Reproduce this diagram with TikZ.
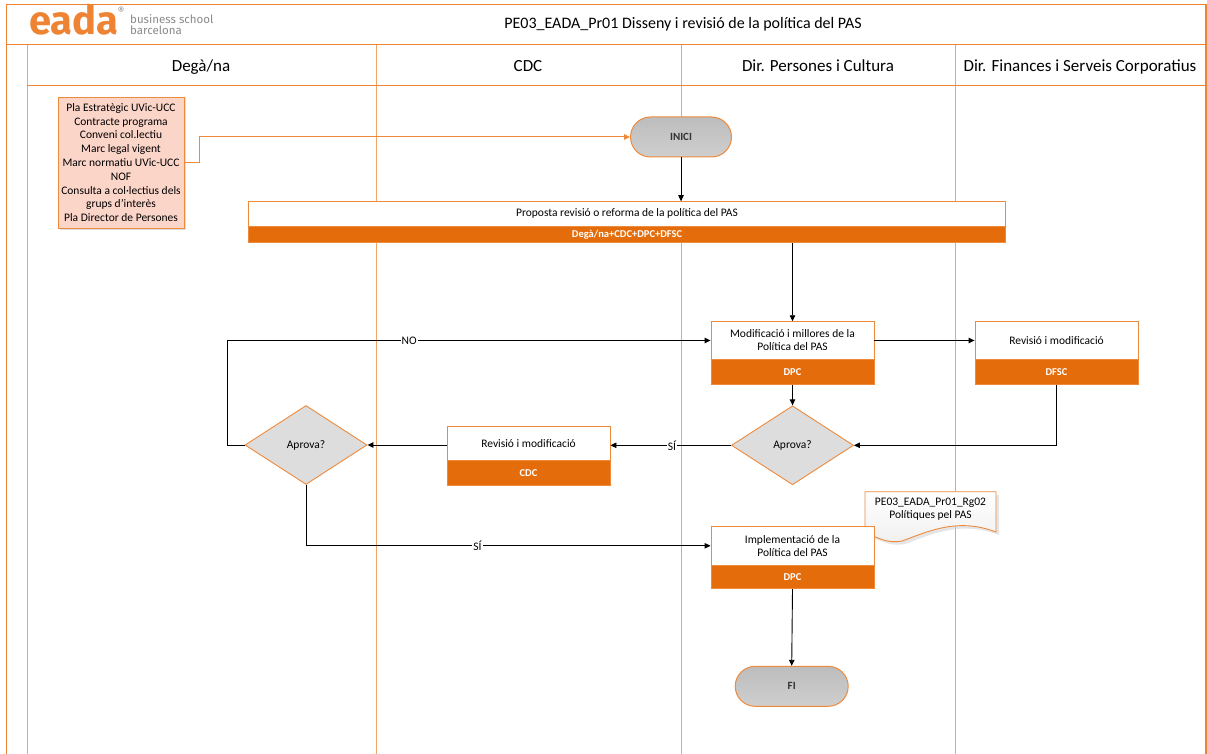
\documentclass[tikz,border=0pt]{standalone}
\usepackage{fontspec}
\setmainfont{Carlito}
\newfontfamily\logofont{Fira Sans}
\usetikzlibrary{arrows.meta,shapes.geometric,shadows,calc}
\definecolor{frameor}{HTML}{EE8433}
\definecolor{laneor}{HTML}{F3A467}
\definecolor{boxor}{HTML}{EE8A3C}
\definecolor{bandor}{HTML}{E46C0A}
\definecolor{inpfill}{HTML}{FCD5C9}
\definecolor{logogray}{HTML}{8A8A8A}
\tikzset{
  lanehead/.style={font=\fontsize{17}{19}\selectfont, anchor=base, inner sep=0pt},
  procbox/.style={draw=boxor, line width=0.9pt, fill=white, minimum width=#1, minimum height=38pt, inner sep=1pt, align=center, font=\fontsize{11.5}{13}\selectfont},
  bandbox/.style={draw=boxor, line width=0.9pt, fill=bandor, text=white, minimum width=#1, minimum height=25pt, inner sep=0pt, font=\bfseries\fontsize{10.5}{12}\selectfont},
  terminal/.style={draw=boxor, line width=1pt, rounded corners=20pt, top color=gray!52, bottom color=gray!38, minimum height=40pt, inner sep=0pt, font=\bfseries\fontsize{11}{12}\selectfont, text=black!80},
  decision/.style={diamond, draw=boxor, line width=0.9pt, fill=gray!27, minimum width=122pt, minimum height=79pt, inner sep=0pt, font=\fontsize{11.5}{13}\selectfont},
  flow/.style={draw=black, line width=0.9pt, -{Triangle[length=6pt,width=5.5pt]}},
  edgelabel/.style={fill=white, inner sep=1pt, font=\fontsize{11.5}{13}\selectfont}
}
\begin{document}
\begin{tikzpicture}[x=1pt,y=-1pt]
\useasboundingbox (0,0) rectangle (1207,754);
\fill[white] (0,0) rectangle (1207,754);
% frame and lanes
\draw[laneor, line width=1pt] (27,45) -- (27,754);
\draw[laneor, line width=1pt] (376,45) -- (376,754);
\draw[laneor, line width=1pt] (681,45) -- (681,754);
\draw[laneor, line width=1pt] (955,45) -- (955,754);
\draw[frameor, line width=1pt] (27,85.5) -- (1206,85.5);
\draw[frameor, line width=1pt] (6.5,45) -- (1206,45);
\draw[frameor, line width=1.2pt] (6.5,754) -- (6.5,4.7) -- (1206,4.7) -- (1206,754);
% logo
\node[anchor=base west, inner sep=0pt, text=frameor, font=\logofont\bfseries\fontsize{40}{40}\selectfont] (logo) at (29,35) {eada};
\node[anchor=center, inner sep=0pt, text=logogray, font=\logofont\fontsize{10}{10}\selectfont] (reg) at (121,11) {\textregistered};
\node[anchor=west, align=left, inner sep=0pt, text=logogray, font=\logofont\fontsize{11.5}{11}\selectfont] (bs) at (130,25) {business school\\barcelona};
% title and lane headers
\node[font=\fontsize{16}{18}\selectfont, anchor=base, inner sep=0pt] (title) at (683,28.5) {PE03\_EADA\_Pr01 Disseny i revisió de la política del PAS};
\node[lanehead] (h1) at (201,71.5) {Degà/na};
\node[lanehead] (h2) at (528,71.5) {CDC};
\node[lanehead] (h3) at (818,71.5) {Dir. Persones i Cultura};
\node[lanehead] (h4) at (1080,71.5) {Dir. Finances i Serveis Corporatius};
% input box
\node[draw=boxor, line width=0.9pt, fill=inpfill, minimum width=126pt, minimum height=131pt, align=center, inner sep=1pt, font=\fontsize{11.5}{13.8}\selectfont, drop shadow={shadow xshift=1.5pt, shadow yshift=-1.5pt, opacity=0.25}] (inp) at (121,162.5) {Pla Estratègic UVic-UCC\\Contracte programa\\Conveni col.lectiu\\Marc legal vigent\\Marc normatiu UVic-UCC\\NOF\\Consulta a col·lectius dels\\grups d'interès\\Pla Director de Persones};
% start
\node[terminal, minimum width=101pt] (inici) at (681,137) {INICI};
% proposal
\node[procbox=757pt, minimum height=24.3pt] (prop) at (627,213.8) {Proposta revisió o reforma de la política del PAS};
\node[bandbox=757pt, minimum height=16.7pt] (propb) at (627,234.3) {Degà/na+CDC+DPC+DFSC};
% modification DPC
\node[procbox=163pt, minimum height=37.6pt] (modif) at (792.5,340.5) {Modificació i millores de la\\Política del PAS};
\node[bandbox=163pt] (modifb) at (792.5,372) {DPC};
% DFSC
\node[procbox=163pt, minimum height=37.6pt] (dfsc) at (1056.5,340.5) {Revisió i modificació};
\node[bandbox=163pt] (dfscb) at (1056.5,372) {DFSC};
% decisions
\node[decision] (ap2) at (792.5,445.3) {Aprova?};
\node[decision] (ap1) at (306,445) {Aprova?};
% CDC box
\node[procbox=163pt, minimum height=34.7pt] (cdc) at (528.5,443.3) {Revisió i modificació};
\node[bandbox=163pt] (cdcb) at (528.5,473.3) {CDC};
% document
\fill[gray!40, opacity=0.5] (868,495) -- (999,495) -- (999,535) .. controls (960,520) and (930,535) .. (905,544) .. controls (890,547) and (880,540) .. (868,536) -- cycle;
\path[draw=boxor, line width=0.9pt, top color=white, bottom color=gray!12] (865,491.7) -- (996,491.7) -- (996,532) .. controls (957,517) and (927,532) .. (902,541) .. controls (887,544) and (877,537) .. (865,533) -- cycle;
\node[align=center, inner sep=0pt, font=\fontsize{11.5}{13}\selectfont] (doc) at (930.5,509.5) {PE03\_EADA\_Pr01\_Rg02\\Polítiques pel PAS};
% implementation
\node[procbox=163pt, minimum height=38.3pt] (impl) at (792.5,545.8) {Implementació de la\\Política del PAS};
\node[bandbox=163pt, minimum height=23.7pt] (implb) at (792.5,576.9) {DPC};
% end
\node[terminal, minimum width=113pt] (fi) at (791.7,686.3) {FI};
% connectors
\draw[boxor, line width=1pt, -{Triangle[length=6pt,width=5.5pt]}] (inp.east) -- ++(15,0) |- (inici.west);
\draw[flow] (inici.south) -- (prop.north -| inici.south);
\draw[flow] (propb.south -| modif.north) -- (modif.north);
\draw[flow] (modif.east) -- (dfsc.west);
\draw[flow] (modifb.south) -- (ap2.north);
\draw[flow] (dfscb.south) |- (ap2.east);
\draw[flow] (ap2.west) -- (cdc.east |- ap2.west) node[edgelabel, pos=0.49] {SÍ};
\draw[flow] (cdc.west |- ap1.east) -- (ap1.east);
\draw[flow] (ap1.west) -- ++(-17,0) |- (modif.west) node[edgelabel, pos=0.688] {NO};
\draw[flow] (ap1.south) |- (impl.west) node[edgelabel, pos=0.712] {SÍ};
\draw[flow] (implb.south) -- (fi.north);
\end{tikzpicture}
\end{document}
